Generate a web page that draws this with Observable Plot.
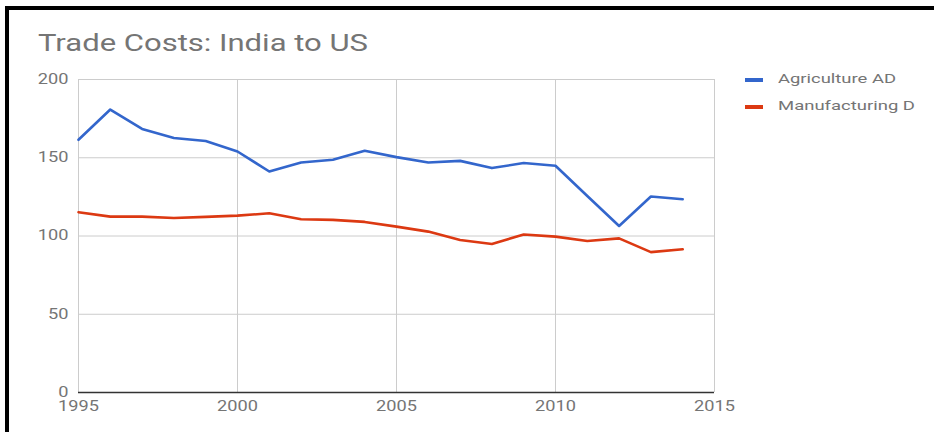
<!DOCTYPE html>
<html>
<head>
<meta charset="utf-8">
<script src="https://cdn.jsdelivr.net/npm/d3@7"></script>
<script src="https://cdn.jsdelivr.net/npm/@observablehq/plot@0.6"></script>
<style>
  html, body { margin: 0; padding: 0; background: #fff; }
  #wrap { position: relative; width: 934px; height: 432px; overflow: hidden; font-family: Roboto, sans-serif; }
  #chart { position: absolute; left: 0; top: 0; }
  .border-top { position: absolute; left: 5px; top: 6px; width: 929px; height: 3.5px; background: #000; }
  .border-left { position: absolute; left: 5px; top: 6px; width: 3.5px; height: 426px; background: #000; }
  #title { position: absolute; left: 38px; top: 31px; font-size: 24px; color: #757575; white-space: nowrap; transform-origin: 0 0; line-height: 1; }
  .leg { position: absolute; left: 745px; height: 20px; white-space: nowrap; }
  .leg .sw { position: absolute; left: 0; top: 8px; width: 18px; height: 4px; }
  .leg .lab { position: absolute; left: 33px; top: 2px; font-size: 13px; color: #757575; line-height: 1; transform-origin: 0 0; }
</style>
</head>
<body>
<div id="wrap">
  <div id="chart"></div>
  <div id="title">Trade Costs: India to US</div>
  <div id="legend"></div>
  <div class="border-top"></div>
  <div class="border-left"></div>
</div>
<script>
const years = [1995,1996,1997,1998,1999,2000,2001,2002,2003,2004,2005,2006,2007,2008,2009,2010,2011,2012,2013,2014];
const agriculture = [161.5,180.8,168.4,162.6,160.7,154,141.2,147,148.7,154.5,150.4,147,148,143.4,146.6,144.9,125.6,106.4,125.2,123.5];
const manufacturing = [115.2,112.4,112.4,111.5,112.2,113,114.5,110.7,110.3,109,106,102.8,97.4,94.9,101,99.6,96.8,98.5,89.7,91.5];
const seriesNames = ["Agriculture AD", "Manufacturing D"];
const seriesColors = ["#3366cc", "#dc3912"];
const xTicks = [1995, 2000, 2005, 2010, 2015];
const yTicks = [0, 50, 100, 150, 200];

const rows = [];
years.forEach((y, i) => {
  rows.push({year: y, value: agriculture[i], series: seriesNames[0]});
  rows.push({year: y, value: manufacturing[i], series: seriesNames[1]});
});

const chart = Plot.plot({
  width: 934,
  height: 432,
  marginLeft: 78,
  marginRight: 220,
  marginTop: 79,
  marginBottom: 40,
  style: {fontFamily: "Roboto, sans-serif", fontSize: "14px", color: "#757575", background: "transparent"},
  x: {domain: [1995, 2015], label: null},
  y: {domain: [0, 200], label: null},
  color: {domain: seriesNames, range: seriesColors},
  marks: [
    Plot.gridX(xTicks, {stroke: "#cccccc", strokeOpacity: 1, strokeWidth: 1}),
    Plot.gridY(yTicks, {stroke: "#cccccc", strokeOpacity: 1, strokeWidth: 1}),
    Plot.axisX(xTicks, {tickSize: 0, tickPadding: 9, tickFormat: d => String(d), fill: "#757575", label: null}),
    Plot.axisY(yTicks, {tickSize: 0, tickPadding: 10, fill: "#757575", label: null}),
    Plot.ruleY([0], {stroke: "#333333", strokeWidth: 1.5}),
    Plot.line(rows, {x: "year", y: "value", z: "series", stroke: "series", strokeWidth: 2.6, strokeLinejoin: "round", strokeLinecap: "round"})
  ]
});
document.getElementById("chart").appendChild(chart);

// horizontal stretch of tick labels to match the reference's wide lettering
d3.select(chart).selectAll("g[aria-label$='tick label'] text").each(function() {
  const t = this.getAttribute("transform") || "";
  this.setAttribute("transform", t + " scale(1.3,1)");
});

// legend
const legend = document.getElementById("legend");
const legTops = [70, 97];
const legWidths = [118, 137];
seriesNames.forEach((name, i) => {
  const item = document.createElement("div");
  item.className = "leg";
  item.style.top = legTops[i] + "px";
  item.innerHTML = `<div class="sw" style="background:${seriesColors[i]}"></div><div class="lab">${name}</div>`;
  legend.appendChild(item);
  const lab = item.querySelector(".lab");
  const w = lab.getBoundingClientRect().width;
  lab.style.transform = `scaleX(${legWidths[i] / w})`;
});

const title = document.getElementById("title");
const tw = title.getBoundingClientRect().width;
title.style.transform = `scaleX(${330 / tw})`;
</script>
</body>
</html>
